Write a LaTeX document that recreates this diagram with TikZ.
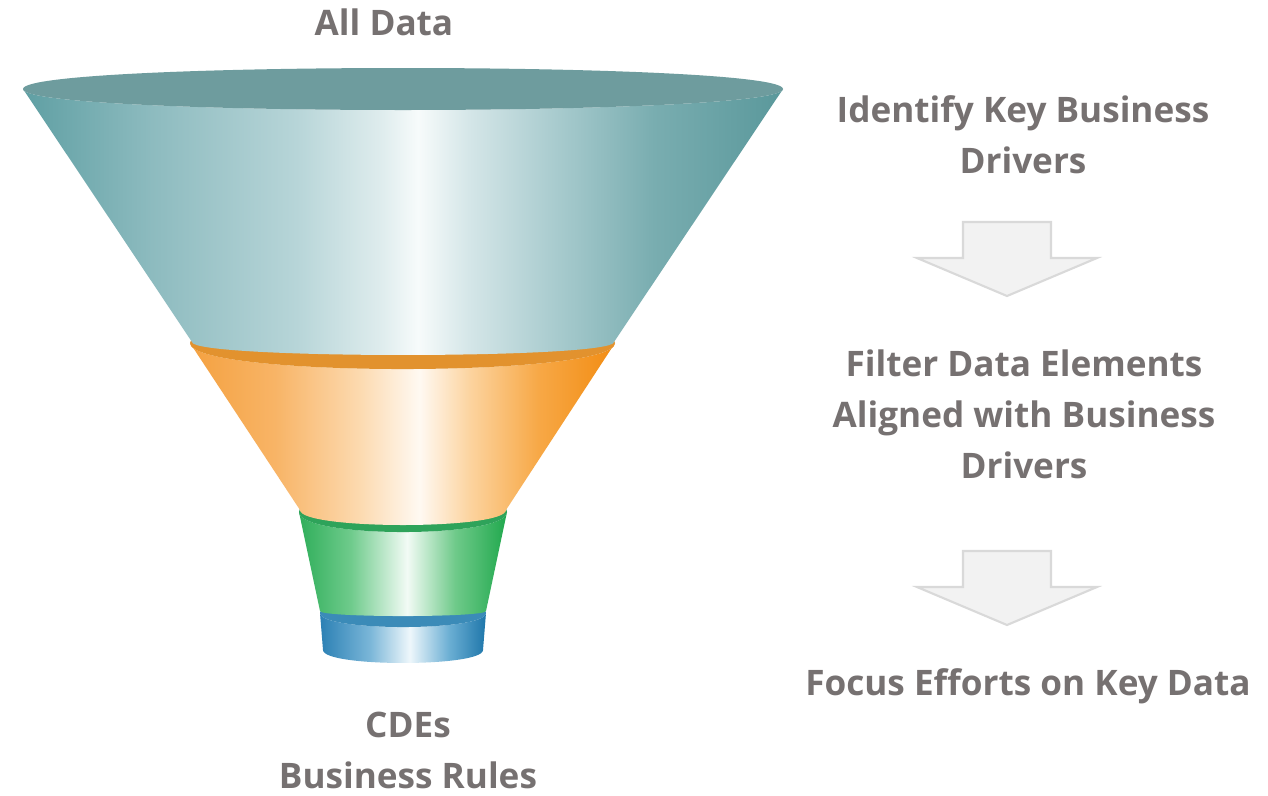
\documentclass[tikz,border=0pt]{standalone}
\usepackage{fontspec}
\setmainfont{Open Sans}
\usepackage{tikz}

\definecolor{labelgray}{HTML}{767171}
\definecolor{arrowfill}{HTML}{F2F2F2}
\definecolor{arrowline}{HTML}{D9D9D9}
\definecolor{tealrim}{HTML}{6E9C9E}
\definecolor{orangerim}{HTML}{E2922E}
\definecolor{greenrim}{HTML}{2EA35A}
\definecolor{bluerim}{HTML}{3B8BB8}

\pgfdeclarehorizontalshading{tealband}{100bp}{%
  color(0bp)=(rgb,255:red,95;green,159;blue,163); color(25bp)=(rgb,255:red,95;green,159;blue,163);
  color(33.5bp)=(rgb,255:red,141;green,187;blue,191); color(43bp)=(rgb,255:red,183;green,213;blue,216);
  color(48.5bp)=(rgb,255:red,222;green,236;blue,237); color(51bp)=(rgb,255:red,247;green,251;blue,251);
  color(54.5bp)=(rgb,255:red,211;green,229;blue,231); color(60.5bp)=(rgb,255:red,165;green,201;blue,204);
  color(66.5bp)=(rgb,255:red,121;green,173;blue,176); color(75bp)=(rgb,255:red,90;green,152;blue,155);
  color(100bp)=(rgb,255:red,90;green,152;blue,155)}
\pgfdeclarehorizontalshading{orangeband}{100bp}{%
  color(0bp)=(rgb,255:red,244;green,161;blue,64); color(25bp)=(rgb,255:red,244;green,161;blue,64);
  color(35bp)=(rgb,255:red,248;green,180;blue,102); color(45bp)=(rgb,255:red,252;green,218;blue,176);
  color(52bp)=(rgb,255:red,255;green,249;blue,242); color(58bp)=(rgb,255:red,252;green,211;blue,158);
  color(66bp)=(rgb,255:red,247;green,168;blue,70); color(75bp)=(rgb,255:red,242;green,140;blue,18);
  color(100bp)=(rgb,255:red,242;green,140;blue,18)}
\pgfdeclarehorizontalshading{greenband}{100bp}{%
  color(0bp)=(rgb,255:red,47;green,174;blue,90); color(25bp)=(rgb,255:red,47;green,174;blue,90);
  color(37.5bp)=(rgb,255:red,111;green,203;blue,140); color(51bp)=(rgb,255:red,242;green,251;blue,245);
  color(62.5bp)=(rgb,255:red,111;green,202;blue,138); color(75bp)=(rgb,255:red,32;green,168;blue,77);
  color(100bp)=(rgb,255:red,32;green,168;blue,77)}
\pgfdeclarehorizontalshading{blueband}{100bp}{%
  color(0bp)=(rgb,255:red,43;green,128;blue,180); color(25bp)=(rgb,255:red,43;green,128;blue,180);
  color(40bp)=(rgb,255:red,122;green,182;blue,216); color(52bp)=(rgb,255:red,238;green,247;blue,251);
  color(64bp)=(rgb,255:red,106;green,174;blue,211); color(75bp)=(rgb,255:red,30;green,118;blue,170);
  color(100bp)=(rgb,255:red,30;green,118;blue,170)}

\begin{document}
\begin{tikzpicture}[x=0.02cm, y=-0.02cm,
    steptext/.style={text=labelgray, font=\fontsize{20}{28.9}\selectfont\bfseries, align=center, anchor=base, inner sep=0pt},
    blockarrow/.style={fill=arrowfill, draw=arrowline, line width=1.2pt, line join=miter}]
\fill[white] (0,0) rectangle (1268,795);

\shade[shading=blueband] (320,613) .. controls (320,631.7) and (486,631.7) .. (486,613) -- (483,650) .. controls (483,667.3) and (323,667.3) .. (323,650) -- cycle;
\fill[bluerim] (320,613) .. controls (320,594.3) and (486,594.3) .. (486,613) .. controls (486,631.7) and (320,631.7) .. (320,613) -- cycle;

\shade[shading=greenband] (299,512) .. controls (299,538.7) and (507,538.7) .. (507,512) -- (486,611) .. controls (486,617.7) and (320,617.7) .. (320,611) -- cycle;
\fill[greenrim] (299,512) .. controls (299,485.3) and (507,485.3) .. (507,512) .. controls (507,538.7) and (299,538.7) .. (299,512) -- cycle;

\shade[shading=orangeband] (190,343) .. controls (190,377.7) and (615,377.7) .. (615,343) -- (506,510) .. controls (506,530) and (300,530) .. (300,510) -- cycle;
\fill[orangerim] (190,343) .. controls (190,308.3) and (615,308.3) .. (615,343) .. controls (615,377.7) and (190,377.7) .. (190,343) -- cycle;

\shade[shading=tealband] (23,89) .. controls (23,117) and (783,117) .. (783,89) -- (614,342) .. controls (614,359.3) and (192,359.3) .. (192,342) -- cycle;
\fill[tealrim] (23,89) .. controls (23,61) and (783,61) .. (783,89) .. controls (783,117) and (23,117) .. (23,89) -- cycle;

\foreach \n/\y in {arrA/222, arrB/551} {
  \coordinate (\n) at (1007,\y);
  \draw[blockarrow] (\n) ++(-44,0) -- ++(88,0) -- ++(0,36) -- ++(46,0) -- ++(-90,38) -- ++(-90,-38) -- ++(46,0) -- cycle;
}

\node[steptext] (alldata) at (384,35) {All Data};
\node[steptext] (identify) at (1023,173) {Identify Key Business\\Drivers};
\node[steptext] (filter) at (1024,478) {Filter Data Elements\\Aligned with Business\\Drivers};
\node[steptext] (focus) at (1028,695) {Focus Efforts on Key Data};
\node[steptext] (cdes) at (408,788) {CDEs\\Business Rules};
\end{tikzpicture}
\end{document}
